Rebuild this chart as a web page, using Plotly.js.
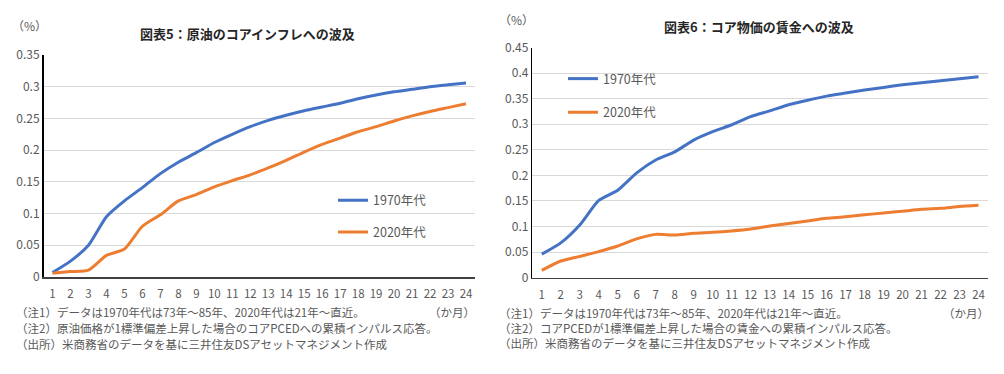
<!DOCTYPE html>
<html>
<head>
<meta charset="utf-8">
<script src="https://cdn.plot.ly/plotly-3.0.1.min.js"></script>
<style>
html,body{margin:0;padding:0;background:#fff;}
#chart{width:1004px;height:374px;}
</style>
</head>
<body>
<div id="chart"></div>
<script>
// ---- data ----
const months = [1,2,3,4,5,6,7,8,9,10,11,12,13,14,15,16,17,18,19,20,21,22,23,24];
const oil1970 = [0.007,0.025,0.050,0.095,0.120,0.141,0.163,0.181,0.196,0.212,0.225,0.237,0.247,0.255,0.262,0.268,0.274,0.281,0.287,0.292,0.296,0.300,0.303,0.306];
const oil2020 = [0.006,0.0085,0.011,0.034,0.044,0.080,0.098,0.120,0.130,0.142,0.152,0.161,0.172,0.184,0.197,0.209,0.219,0.229,0.237,0.246,0.254,0.261,0.267,0.273];
const wage1970 = [0.046,0.068,0.103,0.151,0.171,0.205,0.230,0.246,0.269,0.2855,0.299,0.315,0.326,0.338,0.347,0.355,0.361,0.367,0.372,0.377,0.381,0.385,0.389,0.393];
const wage2020 = [0.0143,0.0326,0.0417,0.051,0.062,0.076,0.0847,0.0834,0.0867,0.0887,0.0913,0.095,0.101,0.106,0.111,0.116,0.119,0.123,0.1265,0.130,0.1336,0.1356,0.139,0.1415];
const seriesNames = ['1970年代','2020年代'];
const titles = ['図表5：原油のコアインフレへの波及','図表6：コア物価の賃金への波及'];
const yTicksLeft = [0,0.05,0.1,0.15,0.2,0.25,0.3,0.35];
const yTicksRight = [0,0.05,0.1,0.15,0.2,0.25,0.3,0.35,0.4,0.45];
const notesLeft = ['（注1）データは1970年代は73年～85年、2020年代は21年～直近。','（注2）原油価格が1標準偏差上昇した場合のコアPCEDへの累積インパルス応答。','（出所）米商務省のデータを基に三井住友DSアセットマネジメント作成'];
const notesRight = ['（注1）データは1970年代は73年～85年、2020年代は21年～直近。','（注2）コアPCEDが1標準偏差上昇した場合の賃金への累積インパルス応答。','（出所）米商務省のデータを基に三井住友DSアセットマネジメント作成'];
const unitX = '（か月）';
const unitY = '（%）';

// ---- styles ----
const W = 1004, H = 374;
const FONT = '"Noto Sans CJK JP", "Noto Sans", sans-serif';
const BLUE = '#4472C4', ORANGE = '#ED7D31';
const TXT = '#595959';
const px = v => v / W;
const py = v => 1 - v / H;

function line(x, y, color, xa, ya, leg, name) {
  return {x: x, y: y, type: 'scatter', mode: 'lines', name: name,
    line: {color: color, width: 3, shape: 'spline', smoothing: 0.6},
    xaxis: xa, yaxis: ya, legend: leg, showlegend: true, hoverinfo: 'skip'};
}

const data = [
  line(months, oil1970, BLUE, 'x', 'y', 'legend', seriesNames[0]),
  line(months, oil2020, ORANGE, 'x', 'y', 'legend2', seriesNames[1]),
  line(months, wage1970, BLUE, 'x2', 'y2', 'legend3', seriesNames[0]),
  line(months, wage2020, ORANGE, 'x2', 'y2', 'legend4', seriesNames[1])
];

function xax(domain, anchor) {
  return {domain: domain, anchor: anchor, range: [0.5, 24.5], tickvals: months, ticktext: months.map(String),
    showgrid: false, zeroline: false, showline: true, linecolor: '#404040', linewidth: 1.5,
    ticks: '', tickfont: {family: FONT, size: 11.5, color: TXT}, ticklabelstandoff: 6, fixedrange: true};
}
function yax(domain, anchor, range, tv) {
  return {domain: domain, anchor: anchor, range: range, tickvals: tv, ticktext: tv.map(String),
    showgrid: true, gridcolor: '#D9D9D9', gridwidth: 1, zeroline: false,
    showline: true, linecolor: '#000000', linewidth: 1.5, ticks: '',
    tickfont: {family: FONT, size: 12, color: TXT}, fixedrange: true};
}
function leg(x, y) {
  return {x: x, y: y, xanchor: 'left', yanchor: 'middle', bgcolor: 'rgba(0,0,0,0)',
    font: {family: FONT, size: 12.5, color: TXT}, itemwidth: 30, borderwidth: 0};
}

const ann = [];
function txt(text, x, y, size, opts) {
  ann.push(Object.assign({text: text, xref: 'paper', yref: 'paper', x: px(x), y: py(y),
    showarrow: false, xanchor: 'left', yanchor: 'middle',
    font: {family: FONT, size: size, color: TXT}}, opts || {}));
}
txt(unitY, 10, 25, 12);
txt(unitY, 497, 20, 12);
txt('<b>' + titles[0] + '</b>', 247, 33, 13, {xanchor: 'center', font: {family: FONT, size: 13, color: '#262626'}});
txt('<b>' + titles[1] + '</b>', 759, 26, 13, {xanchor: 'center', font: {family: FONT, size: 13, color: '#262626'}});
notesLeft.forEach((t, i) => txt(t, 14, 312 + i * 16, 11.5));
notesRight.forEach((t, i) => txt(t, 497, 313 + i * 15, 11.5));
txt(unitX, 477, 312, 11.5, {xanchor: 'right'});
txt(unitX, 991, 313, 11.5, {xanchor: 'right'});

const layout = {
  width: W, height: H, margin: {l: 0, r: 0, t: 0, b: 0},
  paper_bgcolor: '#fff', plot_bgcolor: '#fff',
  font: {family: FONT, color: TXT},
  xaxis: xax([px(43.5), px(475)], 'y'),
  yaxis: yax([py(277), py(55)], 'x', [0, 0.35], yTicksLeft),
  xaxis2: xax([px(532.3), px(988)], 'y2'),
  yaxis2: yax([py(277.7), py(47.5)], 'x2', [0, 0.45], yTicksRight),
  legend: leg(px(333), py(200.7)),
  legend2: leg(px(333), py(232.3)),
  legend3: leg(px(563), py(79)),
  legend4: leg(px(563), py(112.7)),
  annotations: ann,
  showlegend: true
};

Plotly.newPlot('chart', data, layout, {displayModeBar: false, staticPlot: true});
</script>
</body>
</html>
